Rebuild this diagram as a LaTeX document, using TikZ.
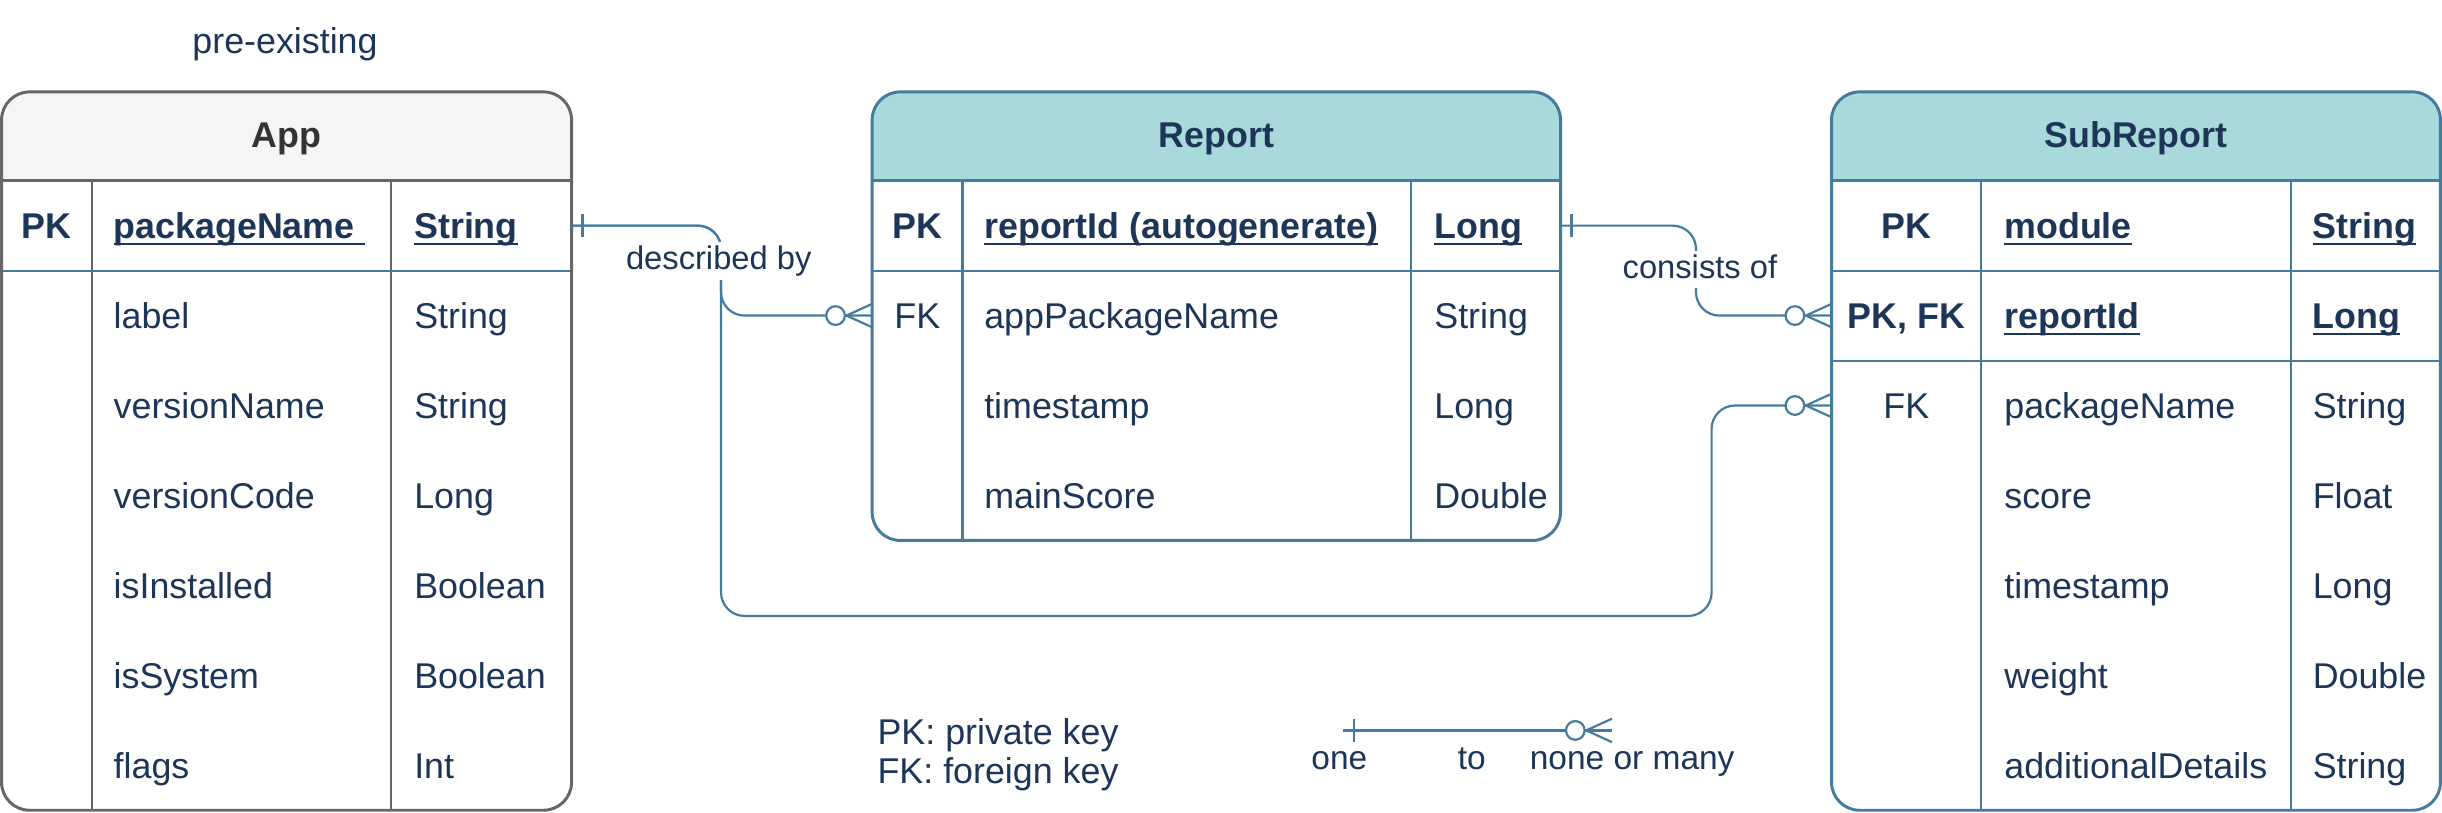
\documentclass[tikz,border=0pt]{standalone}
\usepackage{fontspec}
\setmainfont{Liberation Sans}
\usetikzlibrary{calc}
\definecolor{navy}{HTML}{1D3557}
\definecolor{eblue}{HTML}{457B9D}
\definecolor{hdr}{HTML}{A8DADC}
\definecolor{appgray}{HTML}{666666}
\definecolor{appfill}{HTML}{F5F5F5}
\definecolor{apptitle}{HTML}{333333}
\newcommand\ulx[1]{\setbox0\hbox{#1}\rlap{\rule[-4.2pt]{\wd0}{1.3pt}}\box0}
\newcommand\zeromany[1]{%
  \fill[white] ($(#1)+(-23.5,0)$) circle (6pt);
  \draw[conn] ($(#1)+(-23.5,0)$) circle (6pt);
  \draw[conn] ($(#1)+(-16.5,0)$) -- ($(#1)+(0,-7.5)$)
              ($(#1)+(-16.5,0)$) -- ($(#1)+(0,7.5)$);}
\newcommand\onetick[1]{%
  \draw[conn] ($(#1)+(0,-7.5)$) -- ($(#1)+(0,7.5)$);}
\begin{document}
\begin{tikzpicture}[x=1pt,y=-1pt,
  lw/.style={line width=1.5pt},
  olw/.style={line width=1.9pt},
  conn/.style={draw=eblue, line width=1.4pt},
  t/.style={font=\fontsize{23}{28}\selectfont, text=navy, inner sep=0pt, outer sep=0pt},
  tb/.style={font=\fontsize{23}{28}\selectfont\bfseries, text=navy, inner sep=0pt, outer sep=0pt},
  kc/.style={anchor=base},
  nw/.style={anchor=base west},
  rowbox/.style={minimum width=#1, minimum height=57.75pt, inner sep=0pt, outer sep=0pt},
  lbl/.style={font=\fontsize{21}{25}\selectfont, text=navy, fill=white, inner sep=2pt, text height=15.5pt, text depth=4.5pt, anchor=base},
  leg/.style={font=\fontsize{21.5}{25}\selectfont, text=navy, inner sep=0pt, outer sep=0pt},
  legk/.style={font=\fontsize{23}{28}\selectfont, text=navy, inner sep=0pt, outer sep=0pt},
]
\fill[white] (0,0) rectangle (1568,522);
\useasboundingbox (0,0) rectangle (1568,522);

% ---------- App table ----------
\node[t, anchor=base] (pre) at (183,34.5) {pre-existing};
\begin{scope}
  \clip[rounded corners=18pt] (1,59) rectangle (367,520.25);
  \fill[appfill] (1,59) rectangle (367,116);
\end{scope}
\draw[appgray, lw] (1,116) -- (367,116) (59,116) -- (59,520.25) (251,116) -- (251,520.25);
\draw[eblue, lw] (1,174) -- (367,174);
\draw[appgray, olw, rounded corners=18pt] (1,59) rectangle (367,520.25);
\node[tb, text=apptitle, anchor=base] (app-title) at (184,95) {App};
\node[rowbox=366pt] (app-r1) at (184,144.875) {};
\node[tb,kc] (app-k1) at (30,153.075) {PK};
\node[tb,nw] (app-n1) at (73,153.075) {\ulx{packageName\ }};
\node[tb,nw] (app-t1) at (266,153.075) {\ulx{String}};
\foreach \n/\ty [count=\i from 2] in {label/String, versionName/String, versionCode/Long, isInstalled/Boolean, isSystem/Boolean, flags/Int}{
  \node[t,nw] (app-n\i) at (73,{153.075+57.75*(\i-1)}) {\n};
  \node[t,nw] (app-t\i) at (266,{153.075+57.75*(\i-1)}) {\ty};
}

% ---------- Report table ----------
\begin{scope}
  \clip[rounded corners=18pt] (560,59) rectangle (1002,347);
  \fill[hdr] (560,59) rectangle (1002,116);
\end{scope}
\draw[eblue, lw] (560,116) -- (1002,116) (560,174) -- (1002,174)
  (618,116) -- (618,347) (906,116) -- (906,347);
\draw[eblue, olw, rounded corners=18pt] (560,59) rectangle (1002,347);
\node[tb, anchor=base] (rep-title) at (781,95) {Report};
\node[rowbox=442pt] (rep-r1) at (781,144.875) {};
\node[rowbox=442pt] (rep-r2) at (781,202.625) {};
\node[tb,kc] (rep-k1) at (589,153.075) {PK};
\node[tb,nw] (rep-n1) at (632,153.075) {\ulx{reportId (autogenerate)}};
\node[tb,nw] (rep-t1) at (921,153.075) {\ulx{Long}};
\node[t,kc] (rep-k2) at (589,210.825) {FK};
\foreach \n/\ty [count=\i from 2] in {appPackageName/String, timestamp/Long, mainScore/Double}{
  \node[t,nw] (rep-n\i) at (632,{153.075+57.75*(\i-1)}) {\n};
  \node[t,nw] (rep-t\i) at (921,{153.075+57.75*(\i-1)}) {\ty};
}

% ---------- SubReport table ----------
\begin{scope}
  \clip[rounded corners=18pt] (1176,59) rectangle (1567,520.25);
  \fill[hdr] (1176,59) rectangle (1567,116);
\end{scope}
\draw[eblue, lw] (1176,116) -- (1567,116) (1176,174) -- (1567,174) (1176,232) -- (1567,232)
  (1272,116) -- (1272,520.25) (1471,116) -- (1471,520.25);
\draw[eblue, olw, rounded corners=18pt] (1176,59) rectangle (1567,520.25);
\node[tb, anchor=base] (sub-title) at (1371.5,95) {SubReport};
\node[rowbox=391pt] (sub-r2) at (1371.5,202.625) {};
\node[rowbox=391pt] (sub-r3) at (1371.5,260.375) {};
\node[tb,kc] (sub-k1) at (1224,153.075) {PK};
\node[tb,nw] (sub-n1) at (1287,153.075) {\ulx{module}};
\node[tb,nw] (sub-t1) at (1485,153.075) {\ulx{String}};
\node[tb,kc] (sub-k2) at (1224,210.825) {PK, FK};
\node[tb,nw] (sub-n2) at (1287,210.825) {\ulx{reportId}};
\node[tb,nw] (sub-t2) at (1485,210.825) {\ulx{Long}};
\node[t,kc] (sub-k3) at (1224,268.575) {FK};
\foreach \n/\ty [count=\i from 3] in {packageName/String, score/Float, timestamp/Long, weight/Double, additionalDetails/String}{
  \node[t,nw] (sub-n\i) at (1287,{153.075+57.75*(\i-1)}) {\n};
  \node[t,nw] (sub-t\i) at (1485,{153.075+57.75*(\i-1)}) {\ty};
}

% ---------- connectors ----------
\coordinate (j1) at (463,202.625);
\coordinate (j2) at (463,395.5);
\coordinate (j3) at (1099,260.375);
\coordinate (j4) at (1089,202.625);
\draw[conn, rounded corners=15pt] (app-r1.east) -| (j1) -- (rep-r2.west);
\draw[conn, rounded corners=15pt] (app-r1.east) -| (j2) -| (j3) -- (sub-r3.west);
\draw[conn, rounded corners=15pt] (rep-r1.east) -| (j4) -- (sub-r2.west);
\onetick{$(app-r1.east)+(7,0)$}
\onetick{$(rep-r1.east)+(7,0)$}
\zeromany{rep-r2.west}
\zeromany{sub-r2.west}
\zeromany{sub-r3.west}
\node[lbl] (lab-desc) at (461.5,173) {described by};
\node[lbl] (lab-cons) at (1091.5,178.7) {consists of};

% ---------- legend ----------
\node[legk, anchor=base west] (leg-pk) at (563.5,478) {PK: private key};
\node[legk, anchor=base west] (leg-fk) at (563.5,503) {FK: foreign key};
\coordinate (lgA) at (862.6,469);
\coordinate (lgB) at (1035,469);
\draw[conn] (lgA) -- (lgB);
\onetick{$(lgA)+(6.7,0)$}
\zeromany{lgB}
\node[leg, anchor=base] (leg-one) at (860,494.4) {one};
\node[leg, anchor=base] (leg-to) at (945,494.4) {to};
\node[leg, anchor=base] (leg-many) at (1048,494.4) {none or many};
\end{tikzpicture}
\end{document}
